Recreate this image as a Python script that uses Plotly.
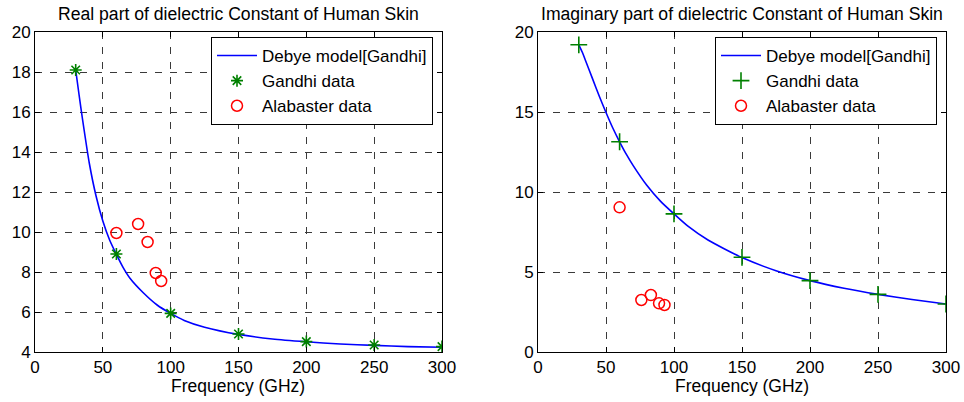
import plotly.graph_objects as go

# ---------------- data ----------------
model_freq = [30, 32.5, 35, 40, 45, 50, 55, 60, 65, 70, 80, 90, 100, 110, 125,
              150, 175, 200, 225, 250, 275, 300]
model_real = [18.1, 16.85, 15.65, 13.45, 11.8, 10.55, 9.6, 8.88, 8.22, 7.69, 6.95,
              6.35, 5.93, 5.58, 5.24, 4.88, 4.65, 4.51, 4.4, 4.33, 4.27, 4.24]
model_imag = [19.2, 18.75, 18.2, 17.1, 16.0, 14.97, 14.0, 13.14, 12.35, 11.65, 10.42,
              9.43, 8.63, 7.88, 7.0, 5.9, 5.08, 4.46, 3.98, 3.6, 3.28, 3.0]

gandhi_freq = [30, 60, 100, 150, 200, 250, 300]
gandhi_real = [18.1, 8.9, 5.93, 4.9, 4.52, 4.35, 4.27]
gandhi_imag = [19.2, 13.14, 8.63, 5.92, 4.46, 3.6, 3.0]

alab_freq = [60, 76, 83, 89, 93]
alab_real = [9.95, 10.4, 9.5, 7.95, 7.55]
alab_imag = [9.04, 3.25, 3.56, 3.04, 2.94]

x_ticks = [0, 50, 100, 150, 200, 250, 300]
y1_ticks = [4, 6, 8, 10, 12, 14, 16, 18, 20]
y2_ticks = [0, 5, 10, 15, 20]

title_left = "Real part of dielectric Constant of Human Skin"
title_right = "Imaginary part of dielectric Constant of Human Skin"
x_label = "Frequency (GHz)"

# ---------------- styling ----------------
W, H = 964, 402
FONT = "Liberation Sans, Arial, sans-serif"
BLUE = "#0000FF"
GREEN = "#008000"
RED = "#FF0000"

fig = go.Figure()

# left panel
fig.add_trace(go.Scatter(x=model_freq, y=model_real, mode="lines",
                         line=dict(color=BLUE, width=1.6, shape="spline", smoothing=0.6),
                         name="Debye model[Gandhi]", xaxis="x", yaxis="y", legend="legend"))
fig.add_trace(go.Scatter(x=gandhi_freq, y=gandhi_real, mode="markers",
                         marker=dict(symbol="asterisk-open", size=10, color=GREEN,
                                     line=dict(color=GREEN, width=1.6)),
                         name="Gandhi data", xaxis="x", yaxis="y", legend="legend"))
fig.add_trace(go.Scatter(x=alab_freq, y=alab_real, mode="markers",
                         marker=dict(symbol="circle-open", size=11, color=RED,
                                     line=dict(color=RED, width=1.5)),
                         name="Alabaster data", xaxis="x", yaxis="y", legend="legend"))

# right panel
fig.add_trace(go.Scatter(x=model_freq, y=model_imag, mode="lines",
                         line=dict(color=BLUE, width=1.6, shape="spline", smoothing=0.6),
                         name="Debye model[Gandhi]", xaxis="x2", yaxis="y2", legend="legend2"))
fig.add_trace(go.Scatter(x=gandhi_freq, y=gandhi_imag, mode="markers",
                         marker=dict(symbol="cross-thin-open", size=12, color=GREEN,
                                     line=dict(color=GREEN, width=1.6)),
                         name="Gandhi data", xaxis="x2", yaxis="y2", legend="legend2"))
fig.add_trace(go.Scatter(x=alab_freq, y=alab_imag, mode="markers",
                         marker=dict(symbol="circle-open", size=11, color=RED,
                                     line=dict(color=RED, width=1.5)),
                         name="Alabaster data", xaxis="x2", yaxis="y2", legend="legend2"))

ydom = [50 / H, 370 / H]
left_dom = [35 / W, 442 / W]
right_dom = [538 / W, 946 / W]

axis_common = dict(showline=True, linecolor="black", linewidth=1, mirror="ticks",
                   ticks="inside", ticklen=5, tickcolor="black", zeroline=False,
                   showgrid=True, gridcolor="#3a3a3a", gridwidth=1, griddash="7px,8px",
                   tickfont=dict(family=FONT, size=17, color="black"))

legend_common = dict(bgcolor="white", bordercolor="black", borderwidth=1,
                     font=dict(family=FONT, size=17, color="black"),
                     xanchor="right", yanchor="top", itemwidth=40,
                     tracegroupgap=0)

fig.update_layout(
    width=W, height=H, margin=dict(l=0, r=0, t=0, b=0),
    paper_bgcolor="white", plot_bgcolor="white", template="none",
    showlegend=True,
    xaxis=dict(domain=left_dom, range=[0, 300], tickvals=x_ticks, anchor="y", **axis_common),
    yaxis=dict(domain=ydom, range=[4, 20], tickvals=y1_ticks, anchor="x", **axis_common),
    xaxis2=dict(domain=right_dom, range=[0, 300], tickvals=x_ticks, anchor="y2", **axis_common),
    yaxis2=dict(domain=ydom, range=[0, 20], tickvals=y2_ticks, anchor="x2", **axis_common),
    legend=dict(x=433 / W, y=1 - 37 / H, **legend_common),
    legend2=dict(x=937 / W, y=1 - 37 / H, **legend_common),
    annotations=[
        dict(text=title_left, x=(left_dom[0] + left_dom[1]) / 2, y=1 - 14 / H,
             xref="paper", yref="paper", showarrow=False, xanchor="center", yanchor="middle",
             font=dict(family=FONT, size=17.6, color="black")),
        dict(text=title_right, x=(right_dom[0] + right_dom[1]) / 2, y=1 - 14 / H,
             xref="paper", yref="paper", showarrow=False, xanchor="center", yanchor="middle",
             font=dict(family=FONT, size=17.6, color="black")),
        dict(text=x_label, x=(left_dom[0] + left_dom[1]) / 2, y=1 - 386 / H,
             xref="paper", yref="paper", showarrow=False, xanchor="center", yanchor="middle",
             font=dict(family=FONT, size=17.5, color="black")),
        dict(text=x_label, x=(right_dom[0] + right_dom[1]) / 2, y=1 - 386 / H,
             xref="paper", yref="paper", showarrow=False, xanchor="center", yanchor="middle",
             font=dict(family=FONT, size=17.5, color="black")),
    ],
)

fig.write_html("out.html")
